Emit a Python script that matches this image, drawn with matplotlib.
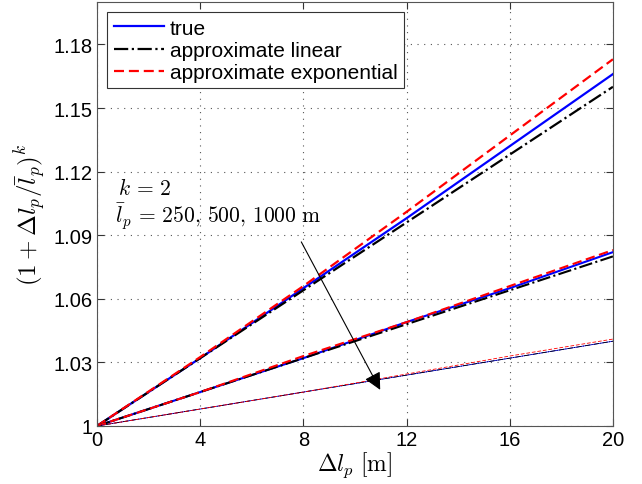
import matplotlib
matplotlib.use('Agg')
from matplotlib import pyplot as plt

plt.rcParams['font.family'] = ['Liberation Sans', 'DejaVu Sans']
plt.rcParams['mathtext.fontset'] = 'cm'

# values
dl = [0, 4, 8, 12, 16, 20]

true_250 = [1.0, 1.032, 1.065, 1.098, 1.132, 1.166]
lin_250 = [1.0, 1.032, 1.064, 1.096, 1.128, 1.160]
exp_250 = [1.0, 1.0325, 1.066, 1.101, 1.137, 1.173]

true_500 = [1.0, 1.016, 1.032, 1.049, 1.065, 1.082]
lin_500 = [1.0, 1.016, 1.032, 1.048, 1.064, 1.080]
exp_500 = [1.0, 1.016, 1.033, 1.049, 1.066, 1.083]

true_1000 = [1.0, 1.008, 1.016, 1.024, 1.032, 1.040]
lin_1000 = [1.0, 1.008, 1.016, 1.024, 1.032, 1.040]
exp_1000 = [1.0, 1.008, 1.016, 1.0245, 1.033, 1.041]

x_ticks = [0, 4, 8, 12, 16, 20]
y_ticks = [1, 1.03, 1.06, 1.09, 1.12, 1.15, 1.18]
y_tick_labels = ['1', '1.03', '1.06', '1.09', '1.12', '1.15', '1.18']

fig = plt.figure(figsize=(6.42, 4.85), dpi=100)
ax = fig.add_axes([0.151, 0.1196, 0.8037, 0.8742])

groups = [
    (true_250, lin_250, exp_250, 1.6),
    (true_500, lin_500, exp_500, 1.5),
    (true_1000, lin_1000, exp_1000, 0.6),
]
for i, (t, l, e, lw) in enumerate(groups):
    ax.plot(dl, t, color='#0000ff', lw=lw, label='true' if i == 0 else None)
    ax.plot(dl, l, color='k', lw=lw, ls='-.', label='approximate linear' if i == 0 else None)
    ax.plot(dl, e, color='#ff0000', lw=lw, ls=(0, (4.5, 2.2)),
            label='approximate exponential' if i == 0 else None)

ax.set_xlim(0, 20)
ax.set_ylim(1, 1.2)
ax.set_xticks(x_ticks)
ax.set_yticks(y_ticks)
ax.set_yticklabels(y_tick_labels)
ax.tick_params(direction='in', labelsize=14.5, length=5, top=True, right=True,
               colors='#333333', labelcolor='k', pad=3)
ax.grid(True, ls=(0, (1, 5)), color='#555555', lw=0.8)
for s in ax.spines.values():
    s.set_color('#555555')

ax.set_xlabel(r'$\Delta l_p\ [\mathrm{m}]$', fontsize=17, labelpad=0)
ax.set_ylabel(r'$(1+\Delta l_p/\bar{l}_p)^k$', fontsize=18, labelpad=4)

ax.text(0.8, 1.1092, r'$k\,=\,2$', fontsize=15.5)
ax.text(0.7, 1.096, r'$\bar{l}_p\,=\,250,\,500,\,1000\ \mathrm{m}$', fontsize=15.5)
ax.annotate('', xy=(11.03, 1.0159), xytext=(7.87, 1.088),
            arrowprops=dict(arrowstyle='-|>', color='k', lw=0.8, mutation_scale=26))

leg = ax.legend(loc='upper left', fontsize=15, handlelength=2.4, borderaxespad=0.5,
                fancybox=False, framealpha=1, edgecolor='#333333', labelspacing=0.15,
                handletextpad=0.3, borderpad=0.3)
leg.get_frame().set_linewidth(0.8)

fig.savefig('out.png', dpi=100)
